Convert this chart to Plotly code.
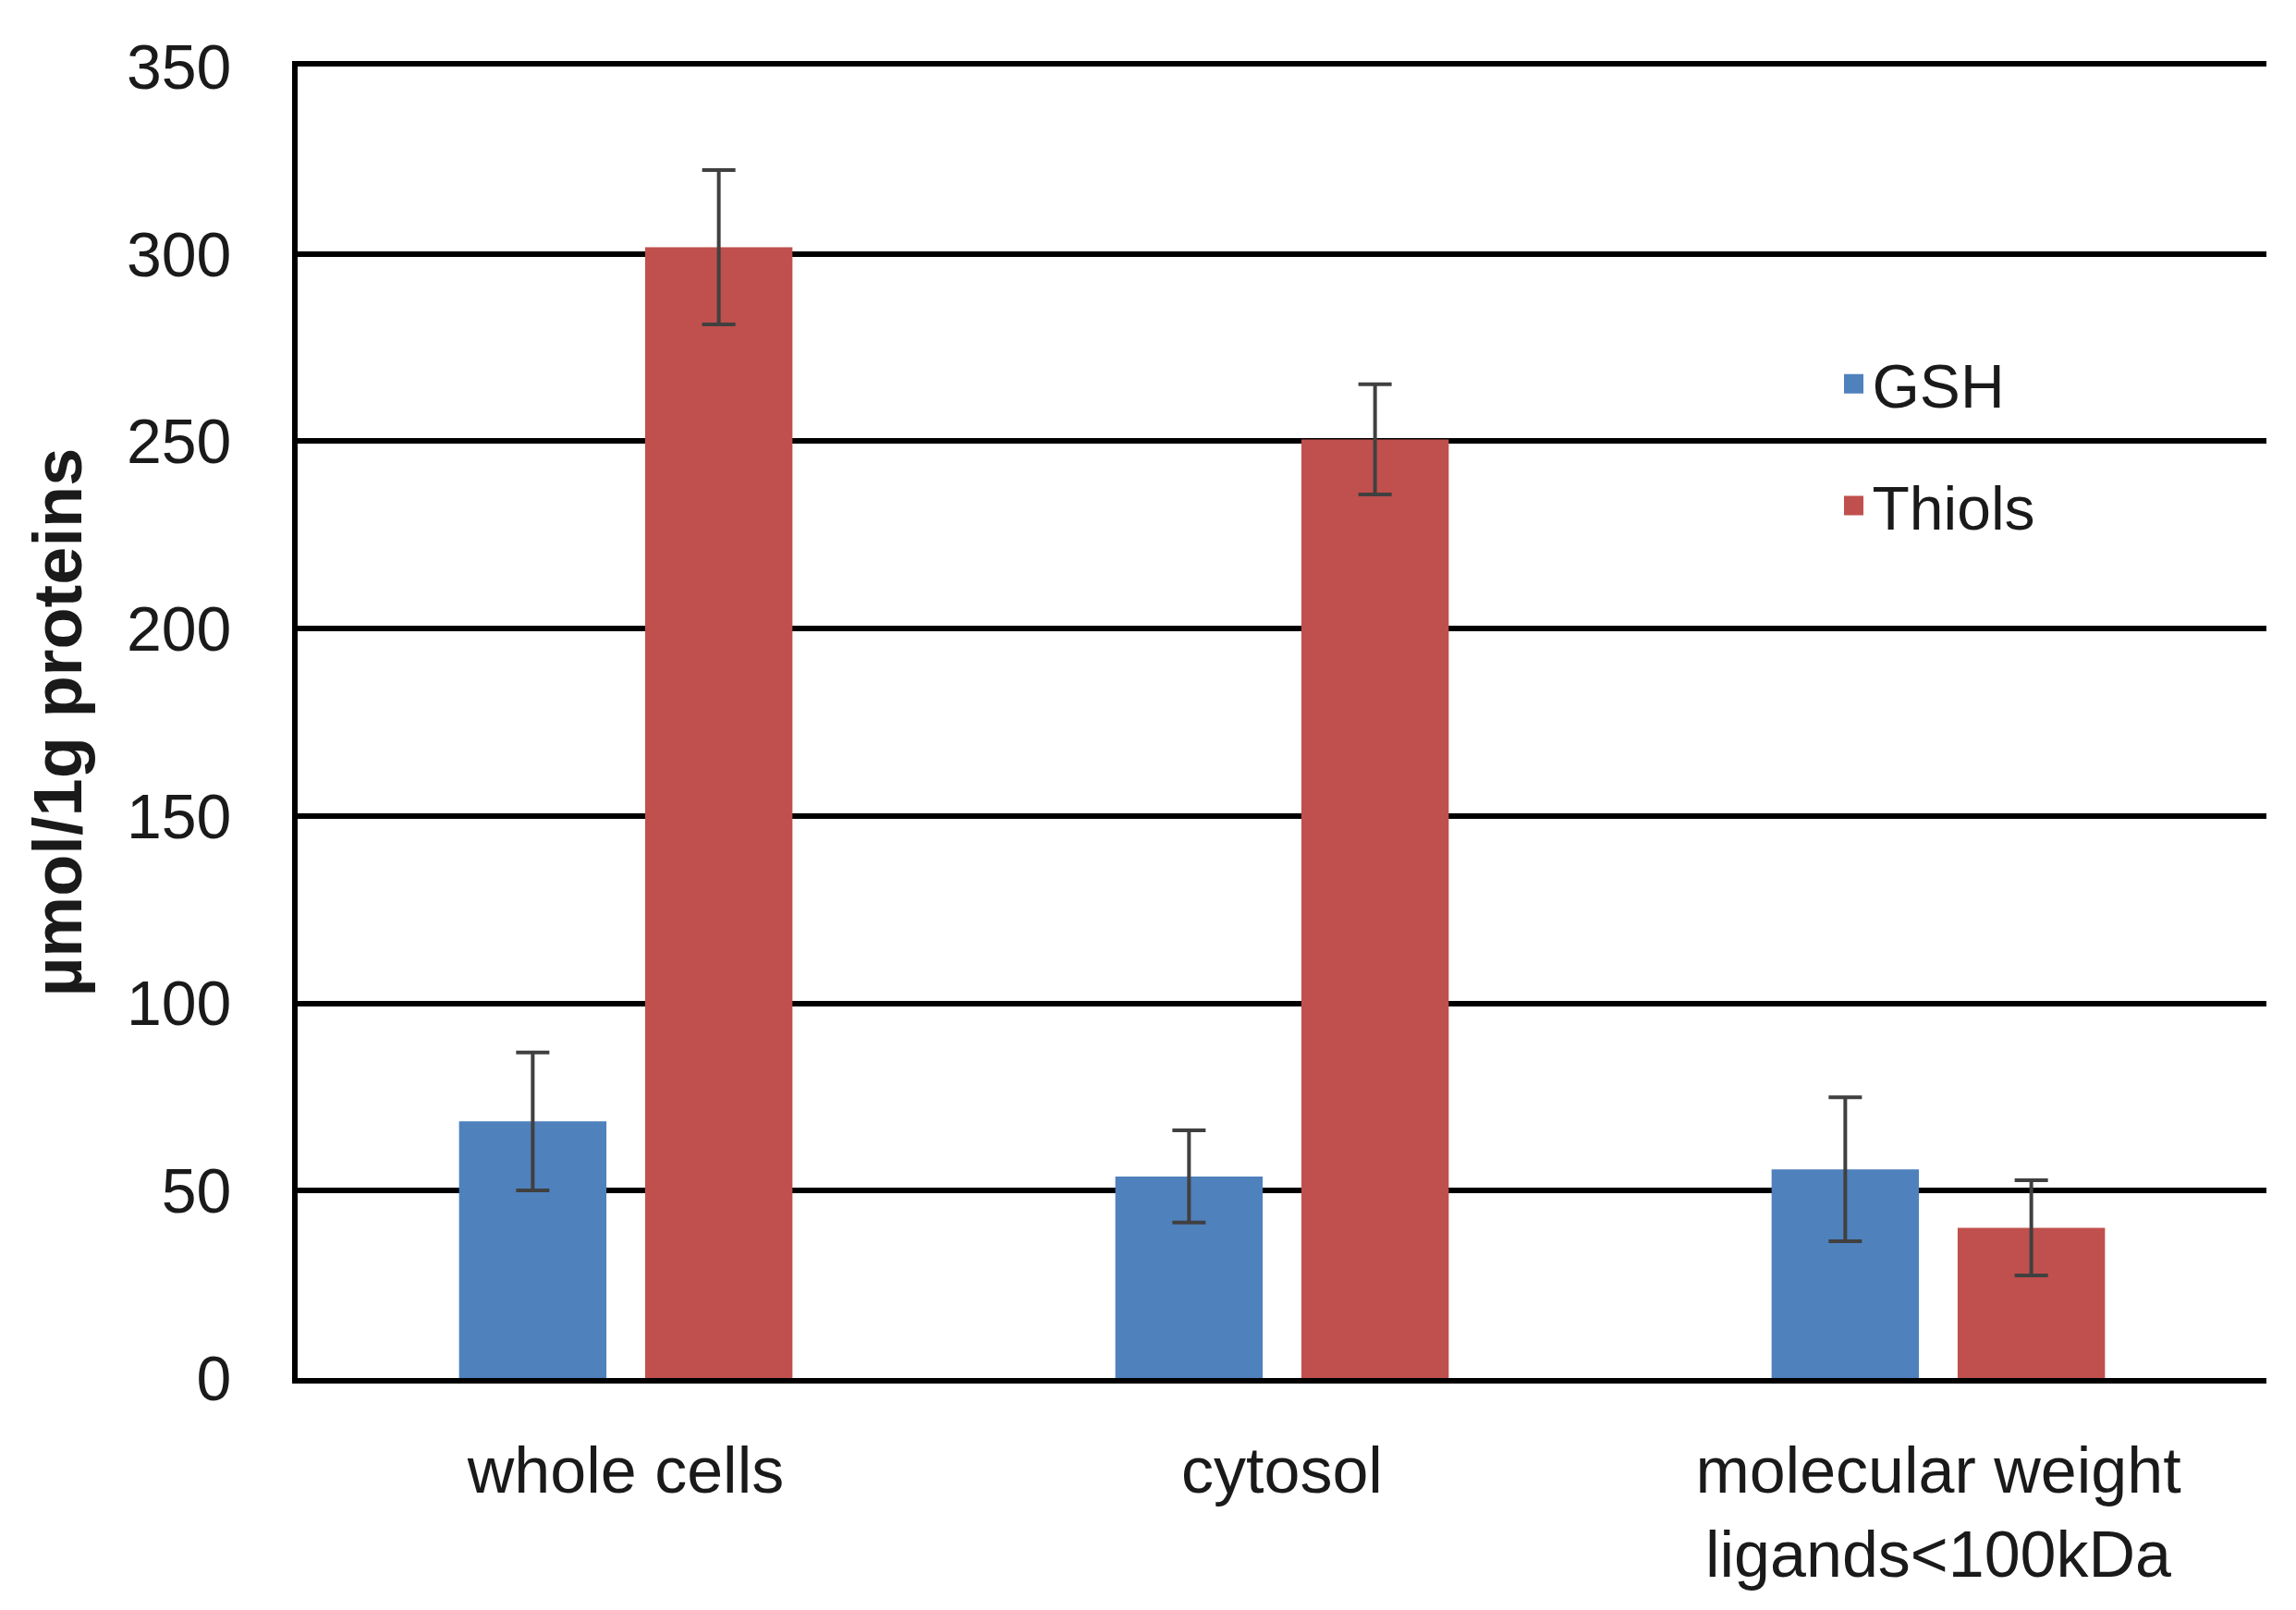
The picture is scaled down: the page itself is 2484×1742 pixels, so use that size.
import plotly.graph_objects as go

# values (umol per 1 g proteins)
categories = ["whole cells", "cytosol", "molecular weight<br>ligands<100kDa"]
gsh = [68.5, 53.8, 55.7]
gsh_err = [18.4, 12.3, 19.2]
thiols = [301.8, 250.5, 40.1]
thiols_err = [20.6, 14.7, 12.7]
y_ticks = [0, 50, 100, 150, 200, 250, 300, 350]

FONT = "Liberation Sans"
BLUE = "#4F81BD"
RED = "#C0504D"
ERR = dict(type="data", visible=True, color="#404040", thickness=4, width=18)

fig = go.Figure()
fig.add_trace(go.Bar(x=categories, y=gsh, name="GSH", showlegend=False,
                     marker=dict(color=BLUE, line=dict(width=0)),
                     error_y=dict(array=gsh_err, **ERR)))
fig.add_trace(go.Bar(x=categories, y=thiols, name="Thiols", showlegend=False,
                     marker=dict(color=RED, line=dict(width=0)),
                     error_y=dict(array=thiols_err, **ERR)))

# legend entries with bigger square symbols than the bar default
for name, col, grp in [("GSH", BLUE, "g1"), ("Thiols", RED, "g2")]:
    fig.add_trace(go.Scatter(x=[None], y=[None], mode="markers", name=name,
                             legendgroup=grp,
                             marker=dict(symbol="square", size=16, color=col,
                                         line=dict(width=5, color=col))))

# the page body has an 8px margin, so the figure is drawn 8px smaller
fig.update_layout(
    width=2476, height=1734,
    margin=dict(l=314, r=32, t=64, b=251, autoexpand=False),
    paper_bgcolor="white", plot_bgcolor="white",
    font=dict(family=FONT, size=64, color="#1a1a1a"),
    barmode="group", bargap=0.433, bargroupgap=0.208,
    legend=dict(x=0.781, y=0.793, xanchor="left", yanchor="top",
                traceorder="grouped", tracegroupgap=43,
                bgcolor="rgba(0,0,0,0)", font=dict(size=66)),
    showlegend=True,
)
fig.update_xaxes(
    showgrid=False, showline=True, mirror=True, linecolor="black",
    linewidth=6, ticks="", ticklabelstandoff=34, tickfont=dict(size=70),
)
fig.update_yaxes(
    range=[0, 350], tickvals=y_ticks, showgrid=True, gridcolor="black",
    gridwidth=6, zeroline=False, showline=True, linecolor="black",
    linewidth=6, ticks="", ticklabelstandoff=52, tickfont=dict(size=68),
    title=dict(text="<b>µmol/1g proteins</b>", standoff=26,
               font=dict(size=74, color="#1a1a1a")),
)

fig.write_html("out.html")
